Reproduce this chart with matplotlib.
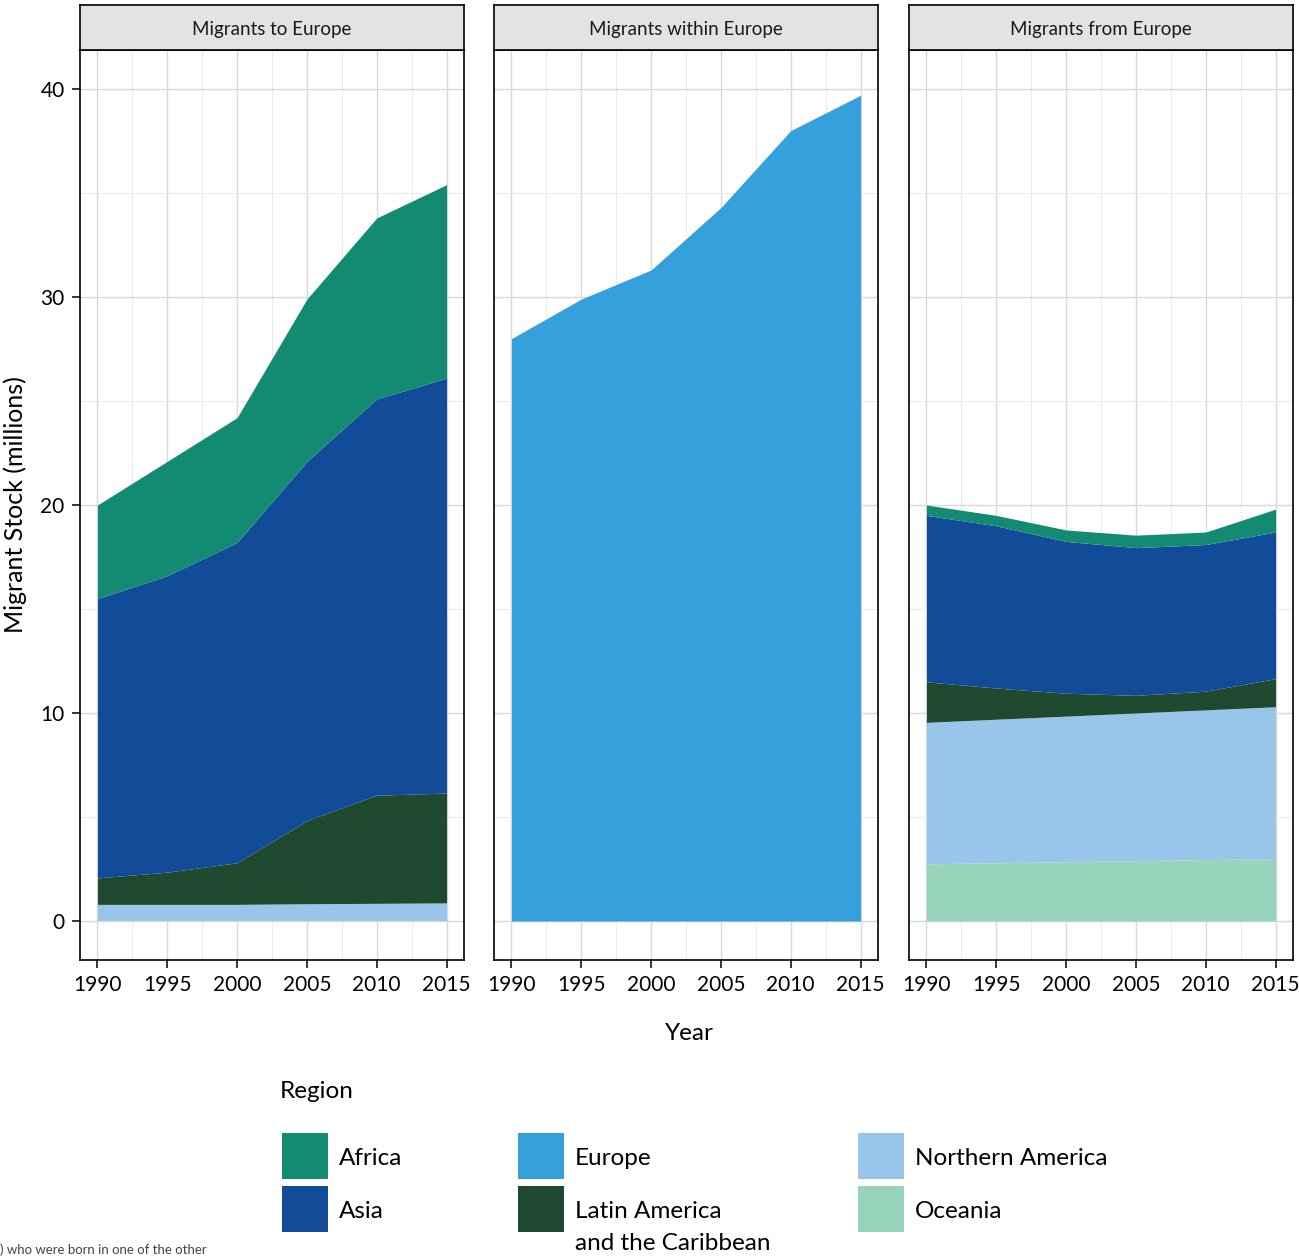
import matplotlib.pyplot as plt
from matplotlib.patches import Rectangle
from matplotlib.ticker import MultipleLocator

plt.rcParams['font.family'] = ['Lato', 'DejaVu Sans']

# datos
years = [1990, 1995, 2000, 2005, 2010, 2015]
regions = ['Africa', 'Asia', 'Europe', 'Latin America\nand the Caribbean',
           'Northern America', 'Oceania']
colors = {'Africa': '#138b72', 'Asia': '#124c98', 'Europe': '#35a0dc',
          'Latin America\nand the Caribbean': '#1f4a30',
          'Northern America': '#9ac5eb', 'Oceania': '#98d4bb'}
panels = ['Migrants to Europe', 'Migrants within Europe', 'Migrants from Europe']

# stacked from bottom: Oceania, Northern America, Latin America, Asia, Africa
to_oceania = [0.05, 0.05, 0.05, 0.05, 0.05, 0.05]
to_namerica = [0.75, 0.75, 0.75, 0.78, 0.8, 0.82]
to_latam = [1.27, 1.55, 2.0, 4.0, 5.2, 5.28]
to_asia = [13.43, 14.25, 15.4, 17.27, 19.05, 19.95]
to_africa = [4.5, 5.5, 6.0, 7.8, 8.7, 9.3]

within_europe = [28.0, 29.9, 31.3, 34.3, 38.0, 39.7]

from_oceania = [2.75, 2.8, 2.85, 2.9, 2.95, 3.0]
from_namerica = [6.8, 6.9, 7.0, 7.1, 7.2, 7.3]
from_latam = [1.95, 1.5, 1.1, 0.85, 0.9, 1.35]
from_asia = [8.0, 7.8, 7.3, 7.1, 7.05, 7.05]
from_africa = [0.5, 0.5, 0.55, 0.6, 0.6, 1.1]

stacks = [
  [('Oceania', to_oceania), ('Northern America', to_namerica),
   ('Latin America\nand the Caribbean', to_latam), ('Asia', to_asia),
   ('Africa', to_africa)],
  [('Europe', within_europe)],
  [('Oceania', from_oceania), ('Northern America', from_namerica),
   ('Latin America\nand the Caribbean', from_latam), ('Asia', from_asia),
   ('Africa', from_africa)],
]

W, H = 1299, 1256
fig = plt.figure(figsize=(W / 100, H / 100), dpi=100)

lefts = [80, 494, 909]
pw = 384
top, bottom = 50, 960
for k in range(3):
  ax = fig.add_axes([lefts[k] / W, 1 - bottom / H, pw / W, (bottom - top) / H])
  ax.set_xlim(1988.75, 2016.25)
  ax.set_ylim(-1.875, 41.875)
  ax.xaxis.set_major_locator(MultipleLocator(5))
  ax.xaxis.set_minor_locator(MultipleLocator(2.5))
  ax.yaxis.set_major_locator(MultipleLocator(10))
  ax.yaxis.set_minor_locator(MultipleLocator(5))
  ax.grid(which='major', color='#d9d9d9', lw=1.0)
  ax.grid(which='minor', color='#ebebeb', lw=0.7)
  ax.set_axisbelow(True)
  base = [0] * len(years)
  for name, vals in stacks[k]:
    upper = [b + v for b, v in zip(base, vals)]
    ax.fill_between(years, base, upper, color=colors[name], lw=0, zorder=2)
    base = upper
  for s in ax.spines.values():
    s.set_color('black')
    s.set_linewidth(1.2)
  ax.tick_params(which='minor', length=0)
  ax.tick_params(which='major', direction='out', length=6, width=1.1,
                 labelsize=15, colors='black', pad=5)
  if k > 0:
    ax.tick_params(axis='y', left=False, labelleft=False)
  else:
    ax.set_ylabel('Migrant Stock (millions)', fontsize=18, labelpad=10)

  # strip
  sx = fig.add_axes([lefts[k] / W, 1 - top / H, pw / W, 45 / H])
  sx.set_facecolor('#e3e3e3')
  sx.set_xticks([])
  sx.set_yticks([])
  for s in sx.spines.values():
    s.set_color('black')
    s.set_linewidth(1.2)
  sx.text(0.5, 0.45, panels[k], ha='center', va='center', fontsize=13.5,
          color='#1a1a1a', transform=sx.transAxes)

fig.text(689 / W, 1 - 1033 / H, 'Year', ha='center', va='center', fontsize=17.5)

# legend, drawn by hand: 3 columns x 2 rows
fig.text(280 / W, 1 - 1092 / H, 'Region', ha='left', va='center', fontsize=17.5)
col_x = [282, 518, 858]
row_y = [1133, 1186]
key = 46
for i, r in enumerate(regions):
  cx = col_x[i // 2]
  ry = row_y[i % 2]
  fig.add_artist(Rectangle((cx / W, 1 - (ry + key) / H), key / W, key / H,
                           facecolor=colors[r], edgecolor='none',
                           transform=fig.transFigure))
  fig.text((cx + key + 11) / W, 1 - (ry + key / 2 - 8) / H, r,
           ha='left', va='top', fontsize=17.5, linespacing=1.65)

fig.text(0 / W, 1 - 1250 / H, ') who were born in one of the other',
         fontsize=9.5, color='#444444', ha='left', va='center')

plt.savefig('out.png', dpi=100)
